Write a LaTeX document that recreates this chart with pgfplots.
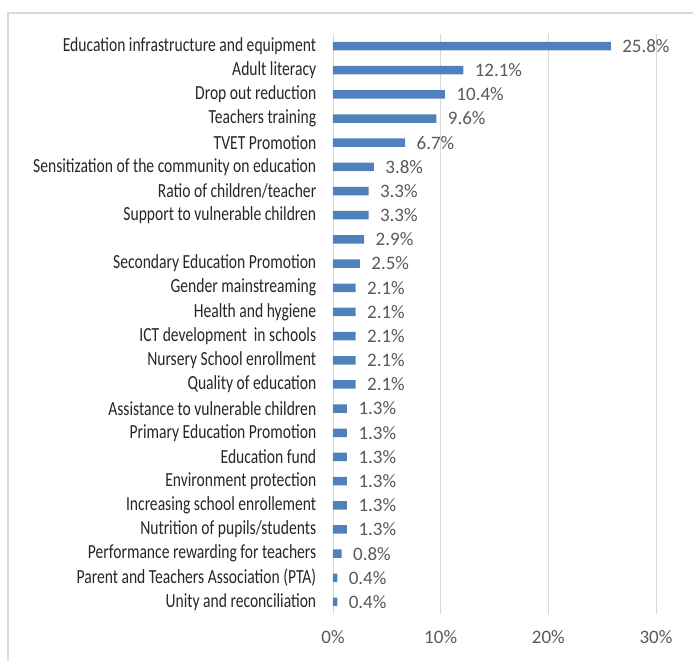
\documentclass[border=0pt]{standalone}
\usepackage{pgfplots}
\pgfplotsset{compat=1.18}
\usepackage{fontspec}
\setmainfont{Carlito}
\newfontfamily\narrowfont[FakeStretch=0.78]{Carlito}
\definecolor{barblue}{HTML}{4F81BD}
\definecolor{gridgray}{HTML}{D9D9D9}
\definecolor{ticktext}{HTML}{595959}
\definecolor{labeltext}{HTML}{262626}

\begin{document}
\begin{tikzpicture}[x=1bp,y=1bp]
\begin{axis}[
    scale only axis, width=323bp, height=580bp,
    xmin=0, xmax=30, ymin=0.5, ymax=24.5,
    y dir=reverse,
    axis line style={draw=none},
    tick style={draw=none},
    xmajorgrids,
    grid style={gridgray, line width=0.9bp},
    xtick={0,10,20,30},
    xticklabel={\pgfmathprintnumber{\tick}\%},
    xticklabel style={font=\fontsize{19bp}{21bp}\selectfont, text=ticktext, yshift=-13bp},
    ytick={1,...,24},
    yticklabels={
        Education infrastructure and equipment,
        Adult literacy,
        Drop out reduction,
        Teachers training\ ,
        TVET Promotion\ ,
        Sensitization of the community on education,
        Ratio of children/teacher,
        Support to vulnerable children,
        {},
        Secondary Education Promotion,
        Gender mainstreaming,
        Health and hygiene,
        ICT development\ \ in schools,
        Nursery School enrollment,
        Quality of education\ ,
        Assistance to vulnerable children,
        Primary Education Promotion,
        Education fund,
        Environment protection,
        Increasing school enrollement\ ,
        Nutrition of pupils/students,
        Performance rewarding for teachers\ ,
        Parent and Teachers Association (PTA),
        Unity and reconciliation},
    yticklabel style={font=\narrowfont\fontsize{20bp}{22bp}\selectfont, text=labeltext, xshift=-9bp},
    /pgf/number format/assume math mode=true,
    xbar, bar width=8.5bp,
    nodes near coords={\pgfmathprintnumber[fixed,fixed zerofill,precision=1]{\pgfplotspointmeta}\%},
    point meta=x,
    nodes near coords style={anchor=west, xshift=8bp, font=\fontsize{19bp}{21bp}\selectfont, text=ticktext},
]
\addplot[fill=barblue, draw=none] coordinates {
    (25.8,1) (12.1,2) (10.4,3) (9.6,4) (6.7,5) (3.8,6) (3.3,7) (3.3,8)
    (2.9,9) (2.5,10) (2.1,11) (2.1,12) (2.1,13) (2.1,14) (2.1,15)
    (1.3,16) (1.3,17) (1.3,18) (1.3,19) (1.3,20) (1.3,21)
    (0.8,22) (0.4,23) (0.4,24)
};
\end{axis}
\draw[gridgray, line width=1.5bp] (-325,-80) -- (-325,601) -- (400,601);
\pgfresetboundingbox
\path[use as bounding box] (-333,-47) rectangle (360,614);
\end{tikzpicture}
\end{document}
